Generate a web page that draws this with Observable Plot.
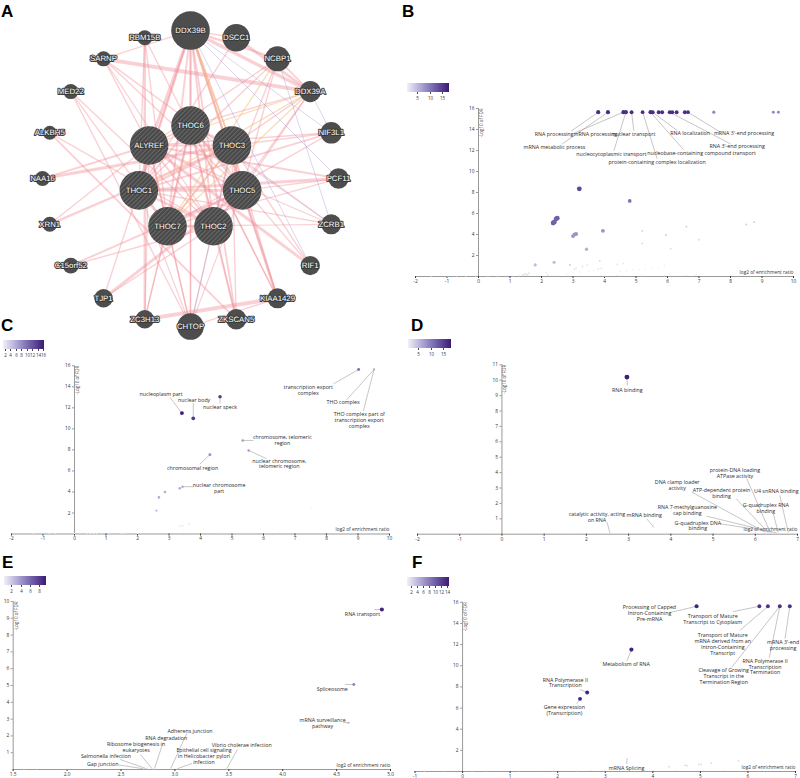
<!DOCTYPE html>
<html><head><meta charset="utf-8">
<script src="https://cdn.jsdelivr.net/npm/d3@7"></script>
<script src="https://cdn.jsdelivr.net/npm/@observablehq/plot@0.6"></script>
<style>
body{margin:0;background:#fff;}
#page{position:relative;width:800px;height:778px;overflow:hidden;font-family:"Open Sans",sans-serif;}
.abs{position:absolute;}
.abs svg{overflow:visible;}
.letter{position:absolute;font:bold 17px "Liberation Sans",Arial,sans-serif;line-height:17px;color:#000;}
.legwrap text{font-size:4.5px !important;fill:#333;font-family:"Open Sans",sans-serif;}
.netA text{text-rendering:geometricPrecision;}
</style></head><body>
<svg width="0" height="0" style="position:absolute"><defs>
<pattern id="hatch" patternUnits="userSpaceOnUse" width="3.2" height="3.2" patternTransform="rotate(45)">
<rect width="3.2" height="3.2" fill="#484848"/><rect width="1" height="3.2" fill="#6b6b6b"/></pattern></defs></svg>
<div id="page"></div>
<script>
// ================= DATA =================
// Panel A : GeneMANIA-style network
const outerGenes = ["DDX39B","DSCC1","NCBP1","DDX39A","NIF3L1","PCF11","ZCRB1","RIF1","KIAA1429","ZKSCAN5","CHTOP","ZC3H13","TJP1","C15orf52","XRN1","NAA16","ALKBH5","MED22","SARNP","RBM15B"];
const outerScores = [1.0,0.71,0.65,0.55,0.56,0.53,0.52,0.5,0.52,0.53,0.69,0.48,0.48,0.41,0.39,0.39,0.36,0.39,0.39,0.39];
const queryGenes = ["THOC6","THOC3","THOC5","THOC2","THOC7","THOC1","ALYREF"];
const queryScores = [1,1,1,1,1,1,1];
// source, target, weight, type (p = physical, o = pathway, v = co-localization)
const edgeList = [
 ["THOC6","THOC3",2,"p"],["THOC6","THOC5",1.5,"p"],["THOC6","THOC2",2,"p"],["THOC6","THOC7",2,"p"],["THOC6","THOC1",1.5,"p"],["THOC6","ALYREF",1.5,"p"],
 ["THOC3","THOC5",2,"p"],["THOC3","THOC2",1.5,"p"],["THOC3","THOC7",1.5,"p"],["THOC3","THOC1",2,"p"],["THOC3","ALYREF",1.5,"p"],
 ["THOC5","THOC2",2,"p"],["THOC5","THOC7",1.5,"p"],["THOC5","THOC1",2.5,"p"],["THOC5","ALYREF",1.5,"p"],
 ["THOC2","THOC7",2.5,"p"],["THOC2","THOC1",2,"p"],["THOC2","ALYREF",1.5,"p"],
 ["THOC7","THOC1",2,"p"],["THOC7","ALYREF",1.5,"p"],["THOC1","ALYREF",2,"p"],
 ["DDX39B","THOC6",2,"p"],["DDX39B","THOC3",1.5,"p"],["DDX39B","THOC5",1.5,"p"],["DDX39B","THOC2",1.5,"p"],["DDX39B","THOC7",1.5,"p"],["DDX39B","THOC1",2,"p"],["DDX39B","ALYREF",2.5,"p"],
 ["SARNP","DDX39A",3.5,"p"],["SARNP","DDX39B",1,"p"],["SARNP","ZCRB1",1,"p"],["SARNP","THOC5",1,"p"],["SARNP","ALYREF",1,"p"],["SARNP","THOC2",0.8,"p"],
 ["RBM15B","ZC3H13",2,"p"],["RBM15B","THOC1",1,"p"],["RBM15B","THOC7",1,"p"],["RBM15B","KIAA1429",1,"p"],
 ["DDX39B","DDX39A",3,"p"],["DDX39B","NCBP1",2,"p"],["DDX39B","CHTOP",1,"p"],["DDX39B","ZKSCAN5",1.5,"p"],["DDX39B","KIAA1429",2,"p"],["DDX39B","DSCC1",1,"p"],["DDX39B","TJP1",1,"p"],
 ["DSCC1","DDX39A",2.5,"p"],["DSCC1","THOC1",1,"p"],
 ["NCBP1","THOC2",1,"p"],["NCBP1","THOC5",1,"p"],["NCBP1","ALYREF",1,"p"],["NCBP1","THOC1",1,"p"],["NCBP1","DDX39A",1.5,"p"],
 ["DDX39A","THOC6",1,"p"],["DDX39A","THOC2",1,"p"],["DDX39A","THOC5",1,"p"],["DDX39A","THOC3",1,"p"],
 ["NIF3L1","THOC1",1.5,"p"],["NIF3L1","THOC3",1,"p"],["NIF3L1","ALYREF",1,"p"],["NIF3L1","THOC7",1,"p"],
 ["PCF11","THOC1",2.5,"p"],["PCF11","ALYREF",1.5,"p"],["PCF11","THOC5",1,"p"],["PCF11","THOC7",1,"p"],
 ["ZCRB1","THOC1",1,"p"],["ZCRB1","THOC7",0.8,"p"],["ZCRB1","ALYREF",0.8,"p"],
 ["RIF1","THOC3",1,"p"],["RIF1","THOC6",1,"p"],["RIF1","ALYREF",2.5,"p"],
 ["KIAA1429","ZC3H13",3.5,"p"],["KIAA1429","THOC6",1,"p"],["KIAA1429","THOC3",1,"p"],["KIAA1429","THOC5",1.5,"p"],["KIAA1429","CHTOP",1,"p"],
 ["ZKSCAN5","THOC3",1,"p"],["ZKSCAN5","THOC2",1.5,"p"],["ZKSCAN5","THOC6",1,"p"],
 ["CHTOP","ALYREF",1,"p"],["CHTOP","THOC7",1,"p"],["CHTOP","THOC2",1,"p"],["CHTOP","THOC6",1,"p"],["CHTOP","THOC1",0.8,"p"],["CHTOP","THOC5",0.8,"p"],
 ["ZC3H13","THOC6",1,"p"],["ZC3H13","ALYREF",1,"p"],["ZC3H13","THOC7",0.8,"p"],
 ["TJP1","THOC5",2.5,"p"],["TJP1","THOC2",1,"p"],
 ["C15orf52","THOC5",1.5,"p"],["C15orf52","THOC2",1,"p"],
 ["XRN1","THOC3",2,"p"],["XRN1","ALYREF",1,"p"],
 ["NAA16","THOC3",2.5,"p"],["NAA16","ALYREF",1.5,"p"],
 ["ALKBH5","ZKSCAN5",1.5,"p"],["ALKBH5","THOC2",1,"p"],
 ["MED22","THOC2",1,"p"],["MED22","CHTOP",1,"p"],["MED22","THOC7",1,"p"],
 ["DDX39B","THOC3",0.8,"o"],["DDX39A","ALYREF",0.8,"o"],["DDX39A","THOC1",0.8,"o"],["DDX39A","THOC7",0.8,"o"],["NCBP1","THOC7",0.8,"o"],["DDX39B","THOC5",0.8,"o"],["THOC3","THOC7",0.8,"o"],
 ["DDX39B","NIF3L1",0.3,"v"],["DDX39A","NIF3L1",0.3,"v"],["DDX39B","PCF11",0.3,"v"],["CHTOP","THOC3",0.3,"v"],["ZCRB1","THOC6",0.3,"v"],["RIF1","DDX39B",0.3,"v"],["NCBP1","ZCRB1",0.3,"v"]
];

// Panel B : GO biological process  [log2 enrichment, -log10 FDR, overlap, colour value]
const bTop = [[3.80,10],[4.11,10],[4.60,10],[4.68,10],[4.86,9],[5.21,8],[5.46,10],[5.53,9],[5.72,9],[5.83,9],[6.07,9],[6.15,9],[6.29,9],[6.55,9],[6.65,8]];
const bPoints = [
 [7.47,15.65,6,9],[9.36,15.65,5,9],[9.52,15.65,5,9],
 [3.2,8.35,14,14],[4.8,7.2,8,11],[2.37,5.1,14,12],[2.41,5.2,14,12],[2.5,5.55,14,12],[2.46,5.5,12,12],
 [3.0,3.85,9,8],[3.05,4.0,9,8],[3.1,4.05,9,8],[3.95,4.35,9,8],[3.43,2.6,7,6],[1.8,1.1,6,5],[2.4,1.35,6,5],
 [5.2,4.35,2,4],[5.2,3.15,2,3],[5.95,3.95,2,4],[6.6,4.75,2,4],[7.0,3.5,2,3],[6.1,2.65,2,3],[8.5,4.95,2,4],[8.75,5.2,2,4],
 [2.9,1.1,3,3],[3.3,0.95,2,2],[3.45,1.1,2,2],[3.1,0.8,2,2],[3.05,0.7,2,2],[3.85,1.5,2,3],[3.9,0.78,2,2],[3.8,0.72,2,2],[4.4,1.15,2,2],[4.6,1.25,2,2],
 [1.4,0.12,3,2],[1.45,0.18,3,2],[1.5,0.22,3,2],[1.55,0.15,3,2],[1.6,0.3,3,2],[2.15,0.4,2,2],[2.2,0.15,2,2],
 [2.8,0.22,1,2],[3.0,0.32,1,2],[3.2,0.42,1,2],[3.5,0.52,1,2],[3.65,0.58,1,2],[4.2,0.42,1,2],[4.5,0.5,1,2],[4.7,0.55,1,2],[4.9,0.6,1,2],[5.1,0.65,1,2],[5.3,0.7,1,2],[5.5,0.78,1,2],[5.7,0.85,1,2],[5.9,1.05,1,2],
 [-1.5,0.03,1,2],[-1.0,0.03,1,2],[-0.7,0.04,1,2],[-0.4,0.03,1,2],[-0.1,0.04,1,2],[0.3,0.05,1,2],[0.6,0.05,1,2],[0.9,0.06,1,2],[1.1,0.05,1,2],[1.3,0.06,1,2],[2.5,0.08,1,2],[4.0,0.05,1,2],[4.4,0.1,1,2],[5.2,0.06,1,2],[5.9,0.07,1,2],[6.3,0.08,1,2],[6.6,0.1,1,2],[6.9,0.12,1,2]
];
// [label, point x, point y, line end x, line end y, label x, label y]
const bNotes = [
 ["RNA processing",3.80,15.65,2.94,13.84,2.40,13.59],
 ["mRNA metabolic process",4.11,15.65,2.66,12.63,2.41,12.31],
 ["mRNA processing",4.60,15.65,3.02,13.62,3.71,13.59],
 ["nucleocytoplasmic transport",4.68,15.65,4.30,12.0,4.22,11.69],
 ["nuclear transport",4.86,15.65,4.93,13.9,4.93,13.59],
 ["protein-containing complex localization",5.21,15.65,5.67,11.21,5.67,10.89],
 ["nucleobase-containing compound transport",5.46,15.65,6.51,12.07,7.08,11.78],
 ["RNA localization",5.53,15.65,6.31,13.9,6.72,13.69],
 ["RNA 3'-end processing",6.07,15.65,8.0,12.63,8.21,12.41],
 ["mRNA 3'-end processing",6.65,15.65,7.68,13.74,8.43,13.69]
];

// Panel C : GO cellular component
const cPoints = [
 [9.02,15.65,5,10],[9.51,15.65,3,6],[3.41,11.5,9,16],[3.77,11.0,8,14],[4.62,13.05,7,14],
 [5.34,8.9,4,7],[5.53,7.95,4,7],[4.3,7.55,5,8],[3.43,4.5,4,6],[3.34,4.35,4,6],[2.87,4.0,4,6],[2.68,3.48,4,6],[2.6,2.23,3,5],
 [7.5,2.48,1,2],[3.35,0.75,2,2],[3.43,0.8,2,2],[3.63,0.98,2,2],[3.45,0.3,1,1],[3.65,0.3,1,1],
 [-1.3,0.05,1,1],[-1.0,0.06,1,1],[-0.8,0.05,1,1],[-0.6,0.06,1,1],[0,0.05,1,1],[0.4,0.06,1,1],[0.5,0.05,1,1],[0.6,0.06,1,1],[0.7,0.05,1,1],[1.1,0.08,1,1],[1.5,0.05,1,1],[1.6,0.06,1,1],[2.0,0.05,1,1],
 [4.6,0.1,1,1],[5.0,0.12,1,1],[5.3,0.12,1,1],[5.6,0.1,1,1],[6.2,0.2,1,1],[6.5,0.25,1,1],[6.7,0.25,1,1],[7.2,0.4,1,1]
];
const cNotes = [
 ["transcription export\ncomplex",9.02,15.65,8.22,14.28,7.42,13.7],
 ["THO complex",9.51,15.65,8.64,12.77,8.53,12.52],
 ["THO complex part of\ntranscription export\ncomplex",9.51,15.65,9.17,11.71,9.04,10.82],
 ["nucleoplasm part",3.41,11.5,3.03,13.0,2.75,13.32],
 ["nuclear body",3.77,11.0,3.77,12.45,3.8,12.71],
 ["nuclear speck",4.62,13.05,4.62,12.4,4.62,12.07],
 ["chromosome, telomeric\nregion",5.34,8.9,5.68,8.9,6.6,8.97],
 ["nuclear chromosome,\ntelomeric region",5.53,7.95,6.1,7.16,6.5,6.7],
 ["chromosomal region",4.3,7.55,3.98,6.65,3.75,6.27],
 ["nuclear chromosome\npart",3.43,4.5,3.77,4.5,4.59,4.39]
];

// Panel D : GO molecular function
const dPoints = [
 [2.96,10.2,14,18],[3.58,0.5,2,3],
 [6.23,0.13,1,2],[6.3,0.12,1,2],[6.35,0.13,1,2],[6.4,0.13,1,2],[6.5,0.1,1,2],[6.54,0.13,1,2],[6.78,0.13,1,2],[2.56,0.05,1,2],
 [-1.7,0.04,1,2],[-1.3,0.05,1,2],[-1.0,0.04,1,2],[-0.8,0.06,1,2],[-0.5,0.05,1,2],[-0.3,0.04,1,2],[0.1,0.05,1,2],[0.3,0.06,1,2],[0.6,0.05,1,2],[0.9,0.07,1,2],[1.1,0.05,1,2],[1.3,0.06,1,2],[1.6,0.05,1,2],[1.9,0.07,1,2],[2.2,0.05,1,2],[2.4,0.06,1,2],[2.8,0.05,1,2],[3.1,0.06,1,2],[3.3,0.05,1,2],[3.9,0.07,1,2],[4.2,0.06,1,2],[4.5,0.05,1,2],[4.8,0.07,1,2],[5.1,0.06,1,2],[5.4,0.07,1,2],[5.7,0.08,1,2],[6.0,0.08,1,2]
];
const dNotes = [
 ["RNA binding",2.96,10.2,2.97,9.66,2.97,9.35],
 ["protein-DNA loading\nATPase activity",6.35,0.13,5.8,3.6,5.52,4.0],
 ["DNA clamp loader\nactivity",6.23,0.13,4.5,2.73,4.15,3.16],
 ["ATP-dependent protein\nbinding",6.3,0.12,5.55,2.3,5.2,2.64],
 ["U4 snRNA binding",6.78,0.13,6.58,2.51,6.5,2.79],
 ["G-quadruplex RNA\nbinding",6.54,0.13,6.43,1.32,6.25,1.7],
 ["RNA 7-methylguanosine\ncap binding",6.4,0.13,4.85,1.17,4.39,1.54],
 ["catalytic activity, acting\non RNA",2.56,0.05,2.49,0.78,2.25,1.1],
 ["mRNA binding",3.58,0.5,3.43,1.0,3.37,1.23],
 ["G-quadruplex DNA\nbinding",6.5,0.1,5.17,0.68,4.64,0.56]
];

// Panel E : KEGG
const ePoints = [
 [4.92,9.52,10,9],[4.66,5.06,5,5],[4.61,2.78,3,3],
 [1.6,0.03,1,1],[1.72,0.03,1,1],[2.0,0.03,1,1],[2.71,0.04,1,1],[2.74,0.04,1,1],[2.79,0.04,1,1],[2.81,0.04,1,1],[2.96,0.04,1,1],[3.02,0.04,1,1],[3.48,0.04,1,1]
];
const eNotes = [
 ["RNA transport",4.92,9.52,4.85,9.52,4.74,9.23],
 ["Spliceosome",4.66,5.06,4.58,5.06,4.46,4.78],
 ["mRNA surveillance\npathway",4.61,2.78,4.56,2.8,4.37,2.74],
 ["Adherens junction",2.96,0.04,3.11,2.14,3.14,2.28],
 ["RNA degradation",2.81,0.04,2.89,1.6,2.92,1.85],
 ["Ribosome biogenesis in\neukaryotes",2.79,0.04,2.68,0.89,2.64,1.31],
 ["Salmonella infection",2.74,0.04,2.49,0.6,2.36,0.77],
 ["Gap junction",2.71,0.04,2.48,0.27,2.33,0.3],
 ["Epithelial cell signaling\nin Helicobacter pylori\ninfection",3.02,0.04,3.16,0.36,3.27,0.82],
 ["Vibrio cholerae infection",3.48,0.04,3.58,1.19,3.62,1.45]
];

// Panel F : Reactome
const fPoints = [
 [4.92,15.62,10,14],[6.24,15.62,9,13],[6.42,15.62,9,13],[6.67,15.62,9,13],[6.88,15.62,9,13],
 [3.55,11.53,10,14],[2.62,7.47,9,14],[2.47,6.87,9,14],
 [3.46,1.2,2,2],[4.34,0.45,2,2],[4.68,0.6,2,2],[4.72,0.55,2,2],[4.97,0.66,2,2],[5.02,0.66,2,2],[5.23,0.78,2,2],[5.8,1.0,2,2],[3.84,0.25,1,1],
 [-0.8,0.05,1,1],[-0.4,0.06,1,1],[0.2,0.05,1,1],[0.5,0.07,1,1],[1.2,0.06,1,1],[1.6,0.08,1,1],[1.9,0.06,1,1],[2.1,0.08,1,1],[2.4,0.07,1,1],[2.7,0.1,1,1],[3.0,0.08,1,1],[3.3,0.1,1,1],[4.0,0.1,1,1],[4.5,0.12,1,1],[5.5,0.12,1,1],[6.0,0.15,1,1],[6.3,0.12,1,1]
];
const fNotes = [
 ["Processing of Capped\nIntron-Containing\nPre-mRNA",4.92,15.62,4.36,15.03,3.93,14.99],
 ["Transport of Mature\nTranscript to Cytoplasm",6.24,15.62,5.69,15.12,5.26,14.41],
 ["Transport of Mature\nmRNA derived from an\nIntron-Containing\nTranscript",6.42,15.62,5.83,13.33,5.47,12.07],
 ["Cleavage of Growing\nTranscript in the\nTermination Region",6.67,15.62,5.66,9.86,5.49,8.98],
 ["RNA Polymerase II\nTranscription\nTermination",6.67,15.62,6.45,10.75,6.36,9.92],
 ["mRNA 3'-end\nprocessing",6.88,15.62,6.78,12.57,6.74,12.0],
 ["Metabolism of RNA",3.55,11.53,3.46,10.49,3.44,10.14],
 ["RNA Polymerase II\nTranscription",2.62,7.47,2.47,7.75,2.16,8.41],
 ["Gene expression\n(Transcription)",2.47,6.87,2.4,6.4,2.14,5.83],
 ["mRNA Splicing",3.46,1.2,3.45,0.7,3.45,0.35]
];

// ================= RENDER =================
const page = document.getElementById("page");
function place(el, left, top) {
  const d = document.createElement("div");
  d.className = "abs"; d.style.left = left + "px"; d.style.top = top + "px";
  d.appendChild(el); page.appendChild(d); return d;
}
function letter(ch, left, top) {
  const d = document.createElement("div");
  d.className = "letter"; d.textContent = ch; d.style.left = left + "px"; d.style.top = top + "px";
  page.appendChild(d);
}
const purp = d3.interpolateRgbBasis(["#f1f0f8", "#8a80c4", "#3b1b76"]);
const FONT = '"Open Sans", sans-serif';

// ---- Panel A ----
function ring(names, scores, radius, core) {
  return names.map((name, i) => {
    const a = (-90 + i * 360 / names.length) * Math.PI / 180;
    return {name, score: scores[i], core, x: radius * Math.cos(a), y: radius * Math.sin(a)};
  });
}
const nodes = [...ring(outerGenes, outerScores, 1, false), ...ring(queryGenes, queryScores, 0.358, true)];
const byName = new Map(nodes.map(n => [n.name, n]));
const edges = edgeList.map(([a, b, w, type]) => ({s: byName.get(a), t: byName.get(b), w, type}));
const linkOpts = {x1: e => e.s.x, y1: e => e.s.y, x2: e => e.t.x, y2: e => e.t.y, strokeWidth: e => 0.4 + e.w};
const plotA = Plot.plot({
  width: 400, height: 345, margin: 0,
  x: {domain: [-1.284, 1.419], range: [0, 400], axis: null},
  y: {domain: [-1.203, 1.128], range: [0, 345], axis: null},
  r: {type: "linear", domain: [0, 1], range: [0, 19.3]},
  style: {background: "transparent", overflow: "visible"},
  marks: [
    Plot.link(edges.filter(e => e.type === "p"), {...linkOpts, stroke: "#ef8d96", strokeOpacity: 0.4}),
    Plot.link(edges.filter(e => e.type === "o"), {...linkOpts, stroke: "#f7c186", strokeOpacity: 0.6}),
    Plot.link(edges.filter(e => e.type === "v"), {...linkOpts, stroke: "#aa9cd4", strokeOpacity: 0.6}),
    Plot.dot(nodes.filter(n => !n.core), {x: "x", y: "y", r: "score", fill: "#4d4d4d"}),
    Plot.dot(nodes.filter(n => n.core), {x: "x", y: "y", r: "score", fill: "url(#hatch)"}),
    Plot.text(nodes, {x: "x", y: "y", text: "name", fill: "white", stroke: "#3a3a3a", strokeWidth: 2,
      fontSize: 7.8, fontFamily: '"Liberation Sans", Arial, sans-serif'})
  ]
});
place(plotA, 0, 0).classList.add("netA");

// ---- scatter panels ----
function scatter(o) {
  const [bx, by, bw, bh] = o.box;
  const [fl, fr, ft, fb] = o.frame;
  const pts = o.pts.map(([x, y, n, c]) => ({x, y, n, c}));
  const notes = o.notes.map(([text, px, py, ex, ey, lx, ly]) => ({text, px, py, ex, ey, lx, ly}));
  const x0 = o.yAxisAt;
  const [ymin, ymax] = o.yDomain;
  const svg = Plot.plot({
    width: bw, height: bh,
    marginLeft: fl - bx, marginRight: bx + bw - fr, marginTop: ft - by, marginBottom: by + bh - fb,
    x: {domain: o.xDomain, ticks: o.xTicks, tickSize: 2, tickPadding: 1, tickFormat: o.xFormat || (d => String(d)), label: null},
    y: {domain: o.yDomain, axis: null},
    color: {type: "linear", domain: o.cDomain, interpolate: purp},
    r: {type: "sqrt", domain: [0, 16], range: [0, 2.6]},
    style: {fontFamily: FONT, fontSize: "4.8px", color: "#333", background: "transparent", overflow: "visible"},
    marks: [
      Plot.ruleY([ymin], {stroke: "#555", strokeWidth: 0.6}),
      Plot.ruleX([x0], {y1: ymin, y2: ymax, stroke: "#555", strokeWidth: 0.6}),
      Plot.ruleY(o.yTicks, {y: d => d, x1: x0, x2: x0, insetRight: 2, stroke: "#555", strokeWidth: 0.6}),
      Plot.text(o.yTicks, {y: d => d, x: x0, text: d => String(d), textAnchor: "end", dx: -4, fill: "#333"}),
      Plot.text(["-Log10 of FDR"], {x: x0, y: ymax, rotate: -90, textAnchor: "end", dx: 3, fill: "#444", fontSize: 4.5}),
      Plot.text(["log2 of enrichment ratio"], {x: o.xDomain[1], y: ymin, textAnchor: "end", lineAnchor: "bottom", dy: -3, fill: "#333"}),
      Plot.link(notes, {x1: "px", y1: "py", x2: "ex", y2: "ey", stroke: "#8c8c8c", strokeWidth: 0.5}),
      Plot.dot(pts, {x: "x", y: "y", r: "n", fill: "c"}),
      Plot.text(notes, {x: "lx", y: "ly", text: "text", fontSize: 5.3, fill: "#2b2b2b", lineHeight: 1.13})
    ]
  });
  place(svg, bx, by);
  const leg = Plot.legend({
    color: {type: "linear", domain: o.cDomain, interpolate: purp},
    width: o.legend[2], height: 19, marginTop: 0, marginBottom: 10, marginLeft: 0, marginRight: 0,
    ticks: o.legendTicks, tickSize: 2, label: null,
    style: {fontFamily: FONT, fontSize: "4.5px", background: "transparent", overflow: "visible", color: "#444"}
  });
  leg.querySelectorAll(".tick line").forEach(l => l.setAttribute("y1", 0));
  const w = place(leg, o.legend[0], o.legend[1]);
  w.classList.add("legwrap");
}

const bAll = [...bTop.map(([x, n]) => [x, 15.65, n, 16]), ...bPoints];

scatter({box: [400, 0, 400, 300], frame: [415, 793, 108, 276], xDomain: [-2, 10], yDomain: [0, 16],
  xTicks: d3.range(-2, 11), yTicks: [2, 4, 6, 8, 10, 12, 14, 16], yAxisAt: 0,
  pts: bAll, notes: bNotes, cDomain: [1.2, 17.6], legend: [407, 83, 42], legendTicks: [5, 10, 15]});

scatter({box: [0, 300, 400, 245], frame: [11, 389, 365.3, 533.5], xDomain: [-2, 10], yDomain: [0, 16],
  xTicks: d3.range(-2, 11), yTicks: [2, 4, 6, 8, 10, 12, 14, 16], yAxisAt: 0,
  pts: cPoints, notes: cNotes, cDomain: [1.3, 16.2], legend: [3, 340, 41], legendTicks: [2, 4, 6, 8, 10, 12, 14, 16]});

scatter({box: [400, 300, 400, 245], frame: [417, 797, 364.3, 533.7], xDomain: [-2, 7], yDomain: [0, 11],
  xTicks: d3.range(-2, 8), yTicks: d3.range(1, 12), yAxisAt: 0,
  pts: dPoints, notes: dNotes, cDomain: [0.8, 18.2], legend: [408, 339, 43], legendTicks: [5, 10, 15]});

scatter({box: [0, 545, 400, 233], frame: [12.7, 390, 601, 769], xDomain: [1.5, 5], yDomain: [0, 10],
  xTicks: [1.5, 2, 2.5, 3, 3.5, 4, 4.5, 5], xFormat: d3.format(".1f"), yTicks: d3.range(1, 11), yAxisAt: 1.5,
  pts: ePoints, notes: eNotes, cDomain: [0.5, 9.4], legend: [4, 576, 42], legendTicks: [2, 4, 6, 8]});

scatter({box: [400, 545, 400, 233], frame: [414.5, 795, 601.8, 771], xDomain: [-1, 7], yDomain: [0, 16],
  xTicks: d3.range(-1, 8), yTicks: [2, 4, 6, 8, 10, 12, 14, 16], yAxisAt: 0,
  pts: fPoints, notes: fNotes, cDomain: [0.7, 14.6], legend: [407, 577, 42], legendTicks: [2, 4, 6, 8, 10, 12, 14]});

letter("A", 1, 3); letter("B", 402, 3); letter("C", 1, 317); letter("D", 411, 317); letter("E", 2, 554); letter("F", 412, 554);
</script>
</body></html>
